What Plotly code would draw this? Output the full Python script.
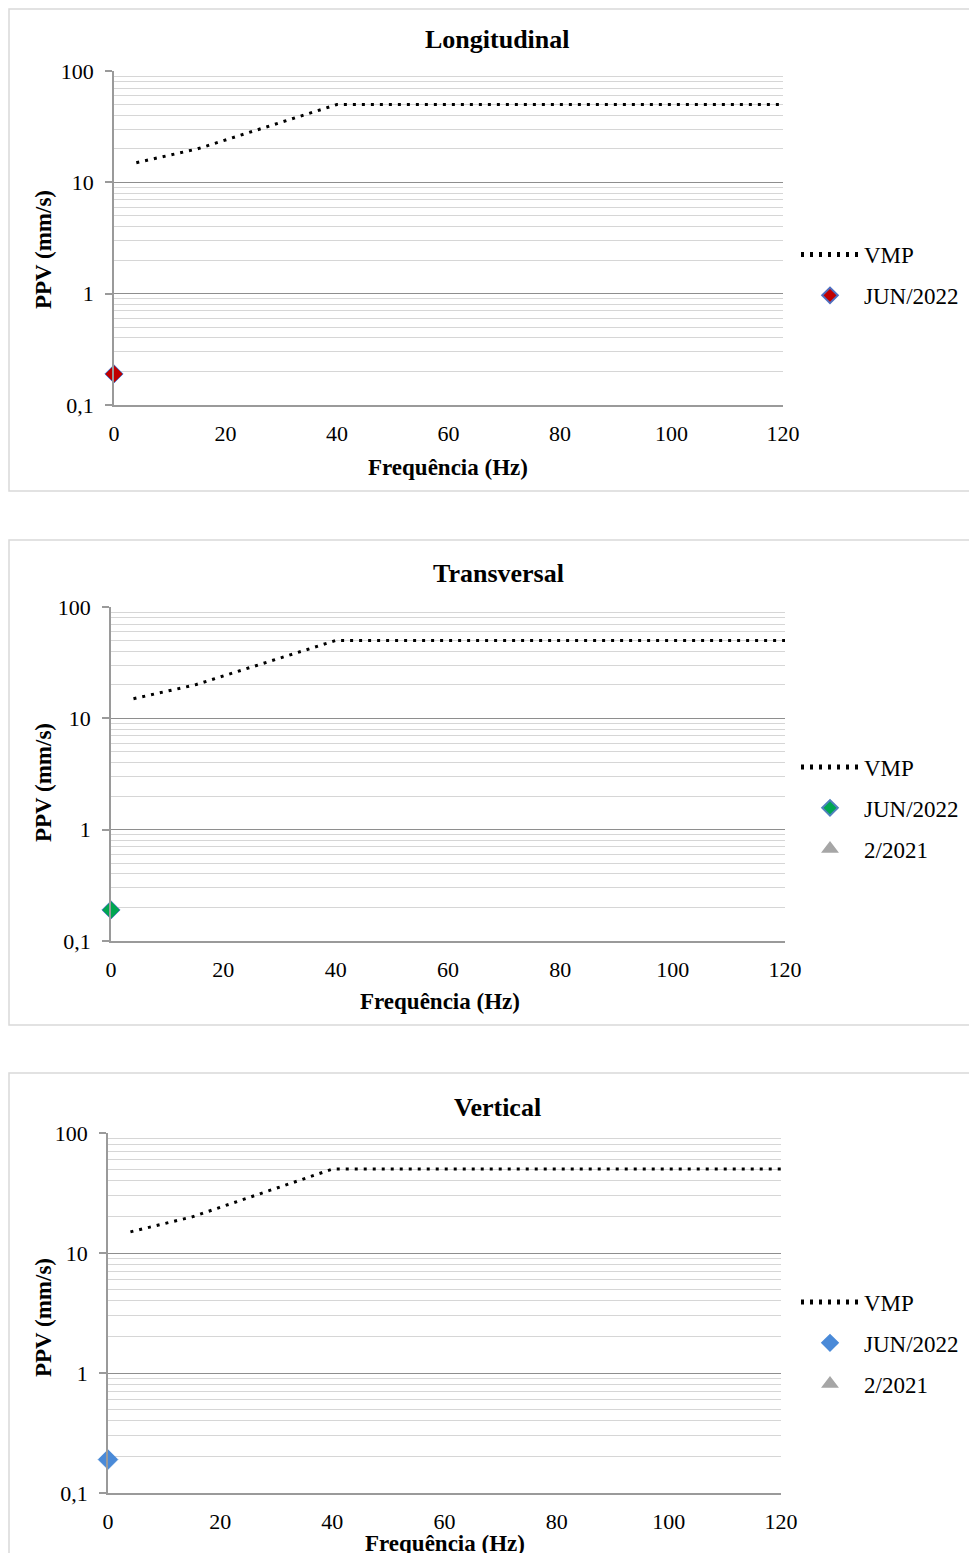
import plotly.graph_objects as go

# ---- data ----
vmp_freq = [4, 15, 40, 120]
vmp_ppv = [15, 20, 50, 50]

long_jun_freq = [0]
long_jun_ppv = [0.19]
trans_jun_freq = [0]
trans_jun_ppv = [0.19]
vert_jun_freq = [0]
vert_jun_ppv = [0.19]
trans_2021_freq = []
trans_2021_ppv = []
vert_2021_freq = []
vert_2021_ppv = []

panel_titles = ["Longitudinal", "Transversal", "Vertical"]
x_ticks = [0, 20, 40, 60, 80, 100, 120]
y_ticks = [0.1, 1, 10, 100]
y_ticktext = ["0,1", "1", "10", "100"]

W, H = 977, 1553
OFF = 8  # page body margin
FONT = "Liberation Serif"

def px_x(p):
    return (p - OFF) / W

def px_y(p):
    return 1 - (p - OFF) / H

minor_vals = [m * 10 ** e for e in (-1, 0, 1) for m in range(2, 10)]

# panel geometry in pixels (reference picture coordinates)
panels = [
    dict(x0=114, x1=783, yt=71, yb=405, box=(6, 5, 491), title_y=39, title_x=498,
         xt=(448, 467), yt_title=(43, 250), legend_y=275, legend_x=796),
    dict(x0=111, x1=785, yt=607, yb=941, box=(6, 540, 1025), title_y=573, title_x=499,
         xt=(440, 1001), yt_title=(43, 783), legend_y=808, legend_x=796),
    dict(x0=108, x1=781, yt=1133, yb=1493, box=(6, 1073, 1570), title_y=1107, title_x=498,
         xt=(445, 1543), yt_title=(43, 1318), legend_y=1343, legend_x=796),
]

series = [
    [("JUN/2022", long_jun_freq, long_jun_ppv, "diamond", "#C00000", 14, "#4F6FC0")],
    [("JUN/2022", trans_jun_freq, trans_jun_ppv, "diamond", "#00A651", 14, "#4F81BD"),
     ("2/2021", trans_2021_freq, trans_2021_ppv, "triangle-up", "#A6A6A6", 12, "#A6A6A6")],
    [("JUN/2022", vert_jun_freq, vert_jun_ppv, "diamond", "#4A8AD8", 15, "#4A8AD8"),
     ("2/2021", vert_2021_freq, vert_2021_ppv, "triangle-up", "#A6A6A6", 12, "#A6A6A6")],
]

fig = go.Figure()
annotations = []
shapes = []
layout_extra = {}

for i, p in enumerate(panels):
    n = i + 1
    xa = "x" if n == 1 else f"x{n}"
    ya = "y" if n == 1 else f"y{n}"
    lg = "legend" if n == 1 else f"legend{n}"

    fig.add_trace(go.Scatter(
        x=vmp_freq, y=vmp_ppv, mode="lines", name="VMP",
        line=dict(color="black", width=3, dash="3px,6px"),
        xaxis=xa, yaxis=ya, legend=lg, legendgroup=f"vmp{n}", cliponaxis=False,
    ))
    for (name, fx, fy, sym, col, size, lcol) in series[i]:
        fig.add_trace(go.Scatter(
            x=fx if fx else [None], y=fy if fy else [None], mode="markers", name=name,
            marker=dict(symbol=sym, color=col, size=size, line=dict(color=lcol, width=1)),
            xaxis=xa, yaxis=ya, legend=lg, legendgroup=f"{name}{n}", cliponaxis=False,
        ))

    xkey = "xaxis" if n == 1 else f"xaxis{n}"
    ykey = "yaxis" if n == 1 else f"yaxis{n}"
    layout_extra[xkey] = dict(
        domain=[px_x(p["x0"]), px_x(p["x1"])], anchor=ya, range=[0, 120],
        tickvals=x_ticks, showgrid=False, zeroline=False, automargin=False,
        showline=True, linecolor="#9A9A9A", linewidth=1.5, ticks="",
        ticklabelstandoff=8,
        tickfont=dict(family=FONT, size=22, color="black"),
    )
    layout_extra[ykey] = dict(
        domain=[px_y(p["yb"]), px_y(p["yt"])], anchor=xa, type="log", range=[-1, 2],
        tickvals=y_ticks, ticktext=y_ticktext, showgrid=True, gridcolor="#8E8E8E", gridwidth=1.2,
        zeroline=False, showline=True, linecolor="#9A9A9A", linewidth=1.5, automargin=False,
        ticks="outside", ticklen=7, tickcolor="#9A9A9A", tickwidth=1.5,
        ticklabelstandoff=7,
        tickfont=dict(family=FONT, size=22, color="black"),
        minor=dict(tickvals=minor_vals, showgrid=True, gridcolor="#D6D6D6", gridwidth=1.2, ticks=""),
    )
    layout_extra[lg] = dict(
        x=px_x(p["legend_x"]), y=px_y(p["legend_y"]), xanchor="left", yanchor="middle",
        font=dict(family=FONT, size=23, color="black"), bgcolor="rgba(0,0,0,0)",
        itemsizing="constant", tracegroupgap=8, itemwidth=58,
        borderwidth=0,
    )

    bx0, by0, by1 = p["box"]
    shapes.append(dict(type="rect", xref="paper", yref="paper",
                       x0=max(px_x(bx0), 1 / W), x1=1.02,
                       y0=px_y(by1), y1=min(px_y(by0), 1 - 1 / H),
                       line=dict(color="#D9D9D9", width=1.5), fillcolor="rgba(0,0,0,0)", layer="below"))

    annotations.append(dict(text=f"<b>{panel_titles[i]}</b>", x=px_x(p["title_x"]), y=px_y(p["title_y"]),
                            xref="paper", yref="paper", showarrow=False, xanchor="center", yanchor="middle",
                            font=dict(family=FONT, size=26, color="black")))
    annotations.append(dict(text="<b>Frequência (Hz)</b>", x=px_x(p["xt"][0]), y=px_y(p["xt"][1]),
                            xref="paper", yref="paper", showarrow=False, xanchor="center", yanchor="middle",
                            font=dict(family=FONT, size=23, color="black")))
    annotations.append(dict(text="<b>PPV (mm/s)</b>", x=px_x(p["yt_title"][0]), y=px_y(p["yt_title"][1]),
                            xref="paper", yref="paper", showarrow=False, xanchor="center", yanchor="middle",
                            textangle=-90, font=dict(family=FONT, size=23, color="black")))

fig.update_layout(
    template="none",
    width=W, height=H, margin=dict(l=0, r=0, t=0, b=0, pad=0, autoexpand=False),
    paper_bgcolor="white", plot_bgcolor="white",
    shapes=shapes, annotations=annotations, showlegend=True,
    **layout_extra,
)

fig.write_html("out.html")
